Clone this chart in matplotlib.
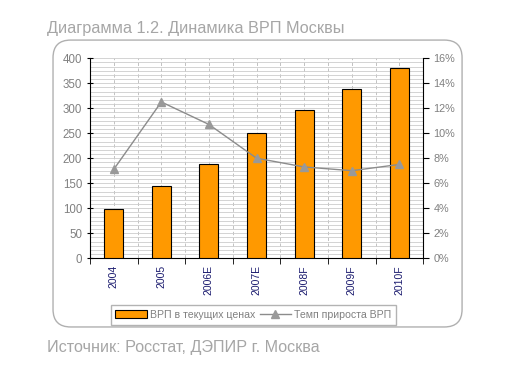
import matplotlib
matplotlib.use("Agg")
import matplotlib.pyplot as plt
from matplotlib.patches import FancyBboxPatch
from matplotlib.ticker import MultipleLocator, FixedLocator, PercentFormatter, AutoMinorLocator

plt.rcParams['font.family'] = ['Liberation Sans', 'DejaVu Sans']

years = ['2004', '2005', '2006E', '2007E', '2008F', '2009F', '2010F']
vrp = [99, 145, 189, 251, 297, 339, 380]           # ВРП в текущих ценах
growth = [7.1, 12.5, 10.7, 8.0, 7.3, 7.0, 7.5]     # Темп прироста ВРП, %

grey_txt = '#a6a6a6'

fig = plt.figure(figsize=(5.05, 3.78), dpi=100)

# рамка со скруглёнными углами
frame = FancyBboxPatch((0.105, 0.135), 0.81, 0.759, boxstyle="round,pad=0,rounding_size=0.035",
                       transform=fig.transFigure, facecolor='white', edgecolor='#b0b0b0', lw=1.0,
                       mutation_aspect=505/378, zorder=-1)
fig.patches.append(frame)

fig.text(0.093, 0.912, 'Диаграмма 1.2. Динамика ВРП Москвы', fontsize=11.7, color=grey_txt)
fig.text(0.093, 0.07, 'Источник: Росстат, ДЭПИР г. Москва', fontsize=11.6, color=grey_txt)

ax = fig.add_axes([0.178, 0.317, 0.660, 0.529])
ax.set_zorder(2)
ax.patch.set_alpha(0)
x = list(range(len(years)))
bars = ax.bar(x, vrp, width=0.4, color='#ff9900', edgecolor='black', lw=0.8,
              label='ВРП в текущих ценах', zorder=3)
ax.set_xlim(-0.5, len(years) - 0.5)
ax.set_ylim(0, 400)
ax.yaxis.set_major_locator(MultipleLocator(50))
ax.yaxis.set_minor_locator(AutoMinorLocator(6))
ax.xaxis.set_major_locator(FixedLocator(x))
ax.xaxis.set_minor_locator(FixedLocator([i + 0.5 for i in range(-1, len(years))]))
ax.set_xticklabels(years, rotation=90, color='#1a1a6e', fontsize=7.5)
ax.tick_params(axis='x', which='major', length=0, pad=5)
ax.tick_params(axis='x', which='minor', length=4, direction='out')
ax.tick_params(axis='y', which='major', length=4, direction='inout', labelsize=8.3, labelcolor='#808080')
ax.tick_params(axis='y', which='minor', length=0)
ax.grid(axis='y', which='both', color='#cccccc', lw=0.6, zorder=0)
ax.grid(axis='x', which='both', color='#b8b8b8', lw=0.6, ls=(0, (4, 3)), zorder=0)
for s in ['top', 'right']:
    ax.spines[s].set_visible(False)
ax.set_axisbelow(True)

ax2 = ax.twinx()
ax2.set_zorder(3)
ax2.patch.set_alpha(0)
line, = ax2.plot(x, growth, color='#8c8c8c', lw=1.0, marker='^', ms=5.5,
                 mfc='#999999', mec='#999999', label='Темп прироста ВРП', zorder=4)
ax2.set_ylim(0, 16)
ax2.yaxis.set_major_locator(MultipleLocator(2))
ax2.yaxis.set_major_formatter(PercentFormatter(decimals=0))
ax2.tick_params(axis='y', length=4, direction='out', labelsize=7.8, labelcolor='#808080')
for s in ['top', 'left', 'bottom']:
    ax2.spines[s].set_visible(False)

leg = fig.legend([bars, line], ['ВРП в текущих ценах', 'Темп прироста ВРП'],
                 loc='center', bbox_to_anchor=(0.502, 0.167), ncol=2, fontsize=7.6,
                 frameon=True, fancybox=False, edgecolor='#a0a0a0', handlelength=3.0,
                 handletextpad=0.3, columnspacing=0.4, borderpad=0.45, borderaxespad=0.2)
for t in leg.get_texts():
    t.set_color('#808080')

fig.savefig('out.png', dpi=100)
